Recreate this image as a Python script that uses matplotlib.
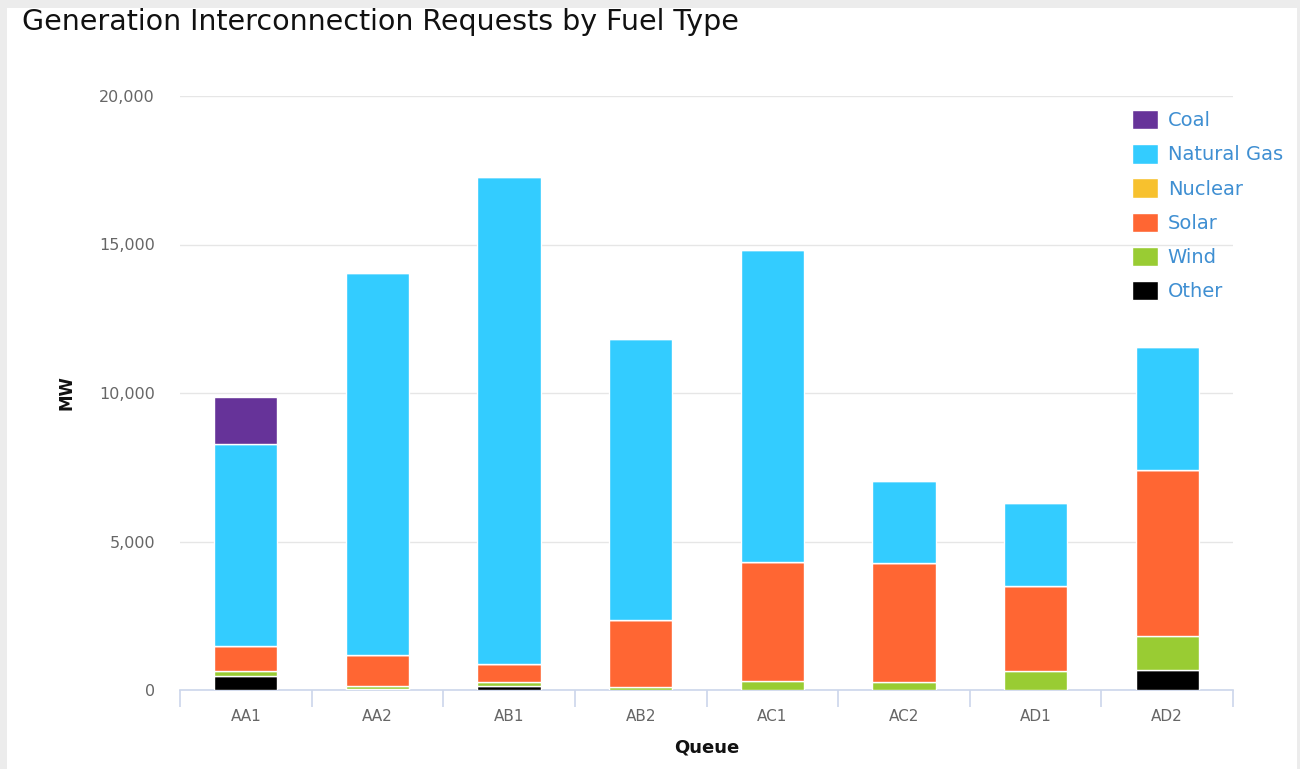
import matplotlib
matplotlib.use("Agg")
import matplotlib.pyplot as plt
from matplotlib.patches import Rectangle
from matplotlib.ticker import FuncFormatter, MultipleLocator, FixedLocator
import numpy as np

queues = ["AA1", "AA2", "AB1", "AB2", "AC1", "AC2", "AD1", "AD2"]
coal = [1580, 0, 0, 0, 0, 0, 0, 0]
natural_gas = [6800, 12860, 16400, 9460, 10500, 2760, 2790, 4140]
nuclear = [0, 0, 0, 0, 0, 0, 0, 0]
solar = [830, 1040, 605, 2257, 4010, 4000, 2860, 5580]
wind = [180, 100, 150, 100, 300, 280, 640, 1155]
other = [470, 40, 120, 0, 0, 0, 0, 673]

series_names = ["Coal", "Natural Gas", "Nuclear", "Solar", "Wind", "Other"]
series_colors = ["#663399", "#33ccff", "#f7c12e", "#ff6633", "#99cc33", "#000000"]

W, H = 1300, 769
fig = plt.figure(figsize=(W / 100, H / 100), dpi=100)
fig.patch.set_facecolor("#ececec")
fig.patches.append(Rectangle((7 / W, 0), (1297 - 7) / W, 1 - 8 / H,
                             transform=fig.transFigure, facecolor="white",
                             edgecolor="none", zorder=-10))

ax = fig.add_axes([180 / W, 1 - 690 / H, (1233 - 180) / W, (690 - 96) / H])
ax.set_zorder(2)
ax.set_facecolor("none")

x = np.arange(len(queues))
stack_order = [("Other", other), ("Wind", wind), ("Solar", solar),
               ("Nuclear", nuclear), ("Natural Gas", natural_gas), ("Coal", coal)]
color_map = dict(zip(series_names, series_colors))
bottom = np.zeros(len(queues))
handles = {}
for name, vals in stack_order:
    vals = np.array(vals, dtype=float)
    bc = ax.bar(x, vals, width=0.48, bottom=bottom, color=color_map[name],
                edgecolor="white", linewidth=1, zorder=3, label=name)
    handles[name] = bc
    bottom += vals

ax.set_xlim(-0.5, len(queues) - 0.5)
ax.set_ylim(0, 20000)
ax.yaxis.set_major_locator(MultipleLocator(5000))
ax.yaxis.set_major_formatter(FuncFormatter(lambda v, p: f"{int(v):,}"))
ax.grid(axis="y", color="#e6e6e6", linewidth=1, zorder=0)
ax.set_axisbelow(True)

for s in ["top", "right", "left"]:
    ax.spines[s].set_visible(False)
ax.spines["bottom"].set_color("#ccd6eb")
ax.spines["bottom"].set_linewidth(1.2)

ax.set_xticks(x)
ax.set_xticklabels(queues)
ax.xaxis.set_minor_locator(FixedLocator(np.arange(-0.5, len(queues), 1.0)))
ax.tick_params(axis="x", which="major", length=0, pad=14, labelsize=11, labelcolor="#666666")
ax.tick_params(axis="x", which="minor", length=12, width=1.2, color="#ccd6eb")
ax.tick_params(axis="y", length=0, pad=18, labelsize=11.5, labelcolor="#666666")

ax.set_xlabel("Queue", fontsize=13, fontweight="bold", color="#111111", labelpad=10)
ax.set_ylabel("MW", fontsize=12, fontweight="bold", color="#111111", labelpad=17)

fig.text(22 / W, 1 - 22 / H, "Generation Interconnection Requests by Fuel Type",
         fontsize=20.5, color="#111111", va="center", ha="left")

leg = fig.legend([handles[n] for n in series_names], series_names,
                 loc="upper left", bbox_to_anchor=(1132 / W, 1 - 110 / H),
                 frameon=False, fontsize=14, handlelength=1.34, handleheight=1.15,
                 handletextpad=0.5, labelspacing=0.72, borderpad=0, borderaxespad=0)
for t in leg.get_texts():
    t.set_color("#3f8fd2")

fig.savefig("out.png", dpi=100, facecolor=fig.get_facecolor())
